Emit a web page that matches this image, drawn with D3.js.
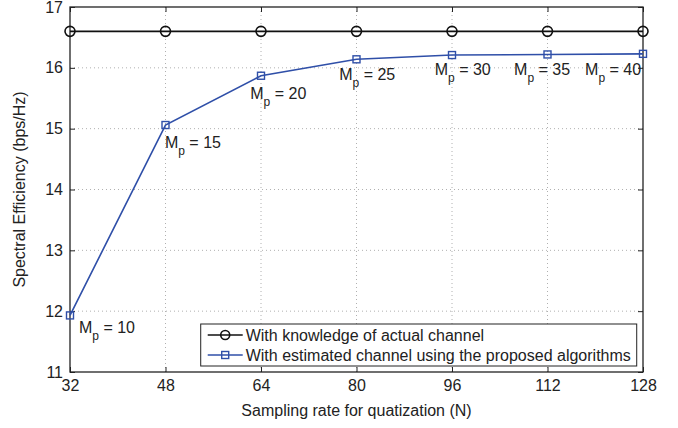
<!DOCTYPE html>
<html lang="en">
  <head>
    <meta charset="UTF-8" />
    <title>Spectral Efficiency</title>
    <script src="https://d3js.org/d3.v7.min.js"></script>
    <style>
      body { margin: 0; background: #fff; }
      text { font-family: "Liberation Sans", Arial, sans-serif; fill: #222; }
    </style>
  </head>
  <body>
    <div id="graph"></div>
    <script>
      // data
      var samplingRates = [32, 48, 64, 80, 96, 112, 128];
      var actualChannel = [16.6, 16.6, 16.6, 16.6, 16.6, 16.6, 16.6];
      var estimatedChannel = [11.93, 15.06, 15.87, 16.14, 16.21, 16.22, 16.23];
      var mpValues = [10, 15, 20, 25, 30, 35, 40];
      // annotation anchors in data units (like matlab text(x, y, ...))
      var labelX = [33.5, 47.9, 62.2, 77.1, 93.1, 106.4, 118.3];
      var labelY = [11.64, 14.68, 15.49, 15.8, 15.88, 15.88, 15.88];
      var yTicks = [11, 12, 13, 14, 15, 16, 17];

      var margin = { top: 7, right: 35, bottom: 56, left: 70 },
        width = 678 - margin.left - margin.right,
        height = 428 - margin.top - margin.bottom;

      var blue = "#2f4fa8";
      var fs = "16px";

      var svg = d3
        .select("#graph")
        .append("svg")
        .attr("width", 678)
        .attr("height", 428)
        .append("g")
        .attr("transform", "translate(" + margin.left + "," + margin.top + ")");

      var x = d3.scaleLinear().domain([32, 128]).range([0, width]);
      var y = d3.scaleLinear().domain([11, 17]).range([height, 0]);

      // grid
      var grid = svg.append("g").attr("stroke", "#b0b0b0").attr("stroke-dasharray", "1,3");
      grid.selectAll(".gx")
        .data(samplingRates.slice(1, -1))
        .enter()
        .append("line")
        .attr("x1", (d) => x(d))
        .attr("x2", (d) => x(d))
        .attr("y1", 0)
        .attr("y2", height);
      grid.selectAll(".gy")
        .data(yTicks.slice(1, -1))
        .enter()
        .append("line")
        .attr("y1", (d) => y(d))
        .attr("y2", (d) => y(d))
        .attr("x1", 0)
        .attr("x2", width);

      // axes, ticks pointing inward like matlab
      svg.append("g")
        .attr("transform", "translate(0," + height + ")")
        .call(d3.axisBottom(x).tickValues(samplingRates).tickSize(-5).tickPadding(8).tickSizeOuter(0));
      svg.append("g")
        .call(d3.axisLeft(y).tickValues(yTicks).tickFormat(d3.format("d")).tickSize(-5).tickPadding(7).tickSizeOuter(0));
      svg.append("g")
        .call(d3.axisTop(x).tickValues(samplingRates).tickSize(-5).tickFormat("").tickSizeOuter(0));
      svg.append("g")
        .attr("transform", "translate(" + width + ",0)")
        .call(d3.axisRight(y).tickValues(yTicks).tickSize(-5).tickFormat("").tickSizeOuter(0));
      svg.selectAll(".domain").remove();
      svg.selectAll(".tick line").attr("stroke", "#222");
      svg.selectAll(".tick text").style("font-size", fs).attr("fill", "#222");

      svg.append("rect")
        .attr("width", width)
        .attr("height", height)
        .attr("fill", "none")
        .attr("stroke", "#222")
        .attr("stroke-width", 1.3);

      // axis titles
      svg.append("text")
        .attr("x", width / 2)
        .attr("y", height + 44)
        .attr("text-anchor", "middle")
        .style("font-size", fs)
        .text("Sampling rate for quatization (N)");
      svg.append("text")
        .attr("transform", "translate(-45," + height / 2 + ")rotate(-90)")
        .attr("text-anchor", "middle")
        .style("font-size", fs)
        .text("Spectral Efficiency (bps/Hz)");

      var line = d3.line().x((d) => x(d[0])).y((d) => y(d[1]));

      // actual channel
      var actual = samplingRates.map((d, i) => [d, actualChannel[i]]);
      svg.append("path")
        .datum(actual)
        .attr("d", line)
        .attr("fill", "none")
        .attr("stroke", "#111")
        .attr("stroke-width", 1.6);
      svg.selectAll(".circ")
        .data(actual)
        .enter()
        .append("circle")
        .attr("cx", (d) => x(d[0]))
        .attr("cy", (d) => y(d[1]))
        .attr("r", 5)
        .attr("fill", "none")
        .attr("stroke", "#111")
        .attr("stroke-width", 1.6);

      // estimated channel
      var est = samplingRates.map((d, i) => [d, estimatedChannel[i]]);
      svg.append("path")
        .datum(est)
        .attr("d", line)
        .attr("fill", "none")
        .attr("stroke", blue)
        .attr("stroke-width", 1.6);
      svg.selectAll(".sq")
        .data(est)
        .enter()
        .append("rect")
        .attr("x", (d) => x(d[0]) - 3.5)
        .attr("y", (d) => y(d[1]) - 3.5)
        .attr("width", 7)
        .attr("height", 7)
        .attr("fill", "none")
        .attr("stroke", blue)
        .attr("stroke-width", 1.4);

      // M_p annotations
      var ann = svg.selectAll(".ann")
        .data(mpValues)
        .enter()
        .append("text")
        .attr("x", (d, i) => x(labelX[i]))
        .attr("y", (d, i) => y(labelY[i]))
        .style("font-size", fs);
      ann.append("tspan").text("M");
      ann.append("tspan").attr("dy", 7).style("font-size", "12px").text("p");
      ann.append("tspan").attr("dy", -7).text((d) => " = " + d);

      // legend
      var legend = svg.append("g").attr("transform", "translate(" + (x(53.9)) + "," + (height - 48) + ")");
      legend.append("rect")
        .attr("width", 436)
        .attr("height", 42)
        .attr("fill", "#fff")
        .attr("stroke", "#222")
        .attr("stroke-width", 1);
      var items = [
        { label: "With knowledge of actual channel", color: "#111", marker: "circle" },
        { label: "With estimated channel using the proposed algorithms", color: blue, marker: "square" }
      ];
      items.forEach(function (it, i) {
        var g = legend.append("g").attr("transform", "translate(0," + (11 + i * 20) + ")");
        g.append("line")
          .attr("x1", 7)
          .attr("x2", 42)
          .attr("stroke", it.color)
          .attr("stroke-width", 1.6);
        if (it.marker == "circle") {
          g.append("circle").attr("cx", 24.5).attr("r", 4.5).attr("fill", "none").attr("stroke", it.color).attr("stroke-width", 1.6);
        } else {
          g.append("rect").attr("x", 21).attr("y", -3.5).attr("width", 7).attr("height", 7).attr("fill", "none").attr("stroke", it.color).attr("stroke-width", 1.4);
        }
        g.append("text")
          .attr("x", 45)
          .attr("y", 6)
          .style("font-size", fs)
          .text(it.label);
      });
    </script>
  </body>
</html>
